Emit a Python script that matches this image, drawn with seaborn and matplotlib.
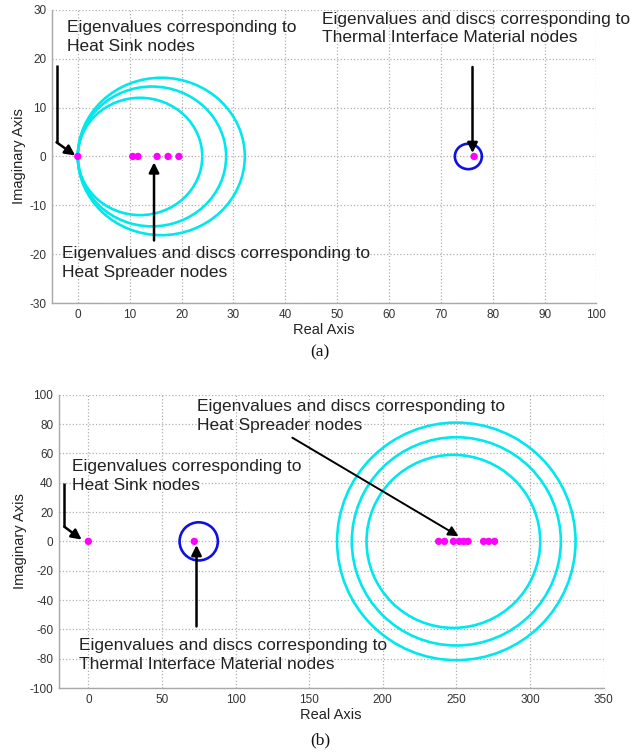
import numpy as np
import pandas as pd
import matplotlib
matplotlib.use('Agg')
import matplotlib.pyplot as plt
from matplotlib.patches import Circle
import seaborn as sns

# (a) eigenvalues and Gershgorin discs
a_sink_eig = [0.0]
a_spreader_eig = [10.6, 11.6, 15.3, 17.4, 19.5]
a_spreader_disc_c = [12.0, 14.3, 16.1]
a_spreader_disc_r = [12.0, 14.3, 16.1]
a_tim_eig = [76.4]
a_tim_disc_c = [75.3]
a_tim_disc_r = [2.6]

# (b)
b_sink_eig = [0.0]
b_spreader_eig = [238, 242, 248, 252, 255, 258, 268.5, 272, 276]
b_spreader_disc_c = [248, 250, 250]
b_spreader_disc_r = [59, 71, 81]
b_tim_eig = [72.0]
b_tim_disc_c = [75.0]
b_tim_disc_r = [13.0]

sns.set_style('white')
plt.rcParams['font.family'] = ['Liberation Sans', 'DejaVu Sans']
plt.rcParams['axes.unicode_minus'] = False

fig = plt.figure(figsize=(6.4, 7.54), dpi=100)
ax_a = fig.add_axes([0.081, 0.598, 0.851, 0.389])
ax_b = fig.add_axes([0.092, 0.0875, 0.851, 0.389])


def style_axes(ax, xlim, ylim, xticks, yticks):
    ax.set_xlim(*xlim)
    ax.set_ylim(*ylim)
    ax.set_xticks(xticks)
    ax.set_yticks(yticks)
    ax.grid(True, linestyle=':', color='#b0b0b0', linewidth=0.9)
    for s in ['top', 'right']:
        ax.spines[s].set_visible(False)
    for s in ['left', 'bottom']:
        ax.spines[s].set_color('#a8a8a8')
        ax.spines[s].set_linewidth(1.0)
    ax.tick_params(direction='in', length=3, color='#a8a8a8', labelsize=8.5,
                   labelcolor='#333333', pad=4)
    ax.set_xlabel('Real Axis', fontsize=10.5, color='#222222',
                  family=['Liberation Sans Narrow', 'Liberation Sans', 'DejaVu Sans'], labelpad=2)
    ax.set_ylabel('Imaginary Axis', fontsize=10.5, color='#222222',
                  family=['Liberation Sans Narrow', 'Liberation Sans', 'DejaVu Sans'], labelpad=2)


def draw_panel(ax, sink, spreader, sp_c, sp_r, tim, tim_c, tim_r):
    for c, r in zip(sp_c, sp_r):
        ax.add_patch(Circle((c, 0), r, fill=False, edgecolor='#00e8ec', linewidth=1.9, zorder=2))
    for c, r in zip(tim_c, tim_r):
        ax.add_patch(Circle((c, 0), r, fill=False, edgecolor='#1010e0', linewidth=1.9, zorder=2))
    eig = pd.DataFrame({'re': sink + spreader + tim})
    eig['im'] = 0.0
    sns.scatterplot(data=eig, x='re', y='im', ax=ax, color='#ff00ff', s=28,
                    edgecolor='none', zorder=3)


arrow = dict(arrowstyle='-|>,head_length=0.6,head_width=0.3', color='black', lw=1.8,
             shrinkA=0, shrinkB=0)
txt = dict(fontsize=12.5, color='#222222', va='top', ha='left', linespacing=1.3)

# panel (a)
draw_panel(ax_a, a_sink_eig, a_spreader_eig, a_spreader_disc_c, a_spreader_disc_r,
           a_tim_eig, a_tim_disc_c, a_tim_disc_r)
style_axes(ax_a, (-5, 100), (-30, 30), np.arange(0, 101, 10), np.arange(-30, 31, 10))
ax_a.text(-2.1, 27.9, 'Eigenvalues corresponding to\nHeat Sink nodes', **txt)
ax_a.plot([-4.1, -4.1], [18.8, 2.9], color='black', lw=1.8, solid_capstyle='butt')
ax_a.annotate('', xy=(-0.5, 0.2), xytext=(-4.1, 2.9), arrowprops=arrow)
ax_a.text(47.0, 29.6, 'Eigenvalues and discs corresponding to\nThermal Interface Material nodes', **txt)
ax_a.annotate('', xy=(76.1, 0.7), xytext=(76.1, 18.3), arrowprops=arrow)
ax_a.text(-3.0, -18.3, 'Eigenvalues and discs corresponding to\nHeat Spreader nodes', **txt)
ax_a.annotate('', xy=(14.7, -1.2), xytext=(14.7, -17.2), arrowprops=arrow)

# panel (b)
draw_panel(ax_b, b_sink_eig, b_spreader_eig, b_spreader_disc_c, b_spreader_disc_r,
           b_tim_eig, b_tim_disc_c, b_tim_disc_r)
style_axes(ax_b, (-20, 350), (-100, 100), np.arange(0, 351, 50), np.arange(-100, 101, 20))
ax_b.text(-11, 56, 'Eigenvalues corresponding to\nHeat Sink nodes', **txt)
ax_b.plot([-16.3, -16.3], [39.5, 10], color='black', lw=1.8, solid_capstyle='butt')
ax_b.annotate('', xy=(-4.5, 1.2), xytext=(-16.3, 10), arrowprops=arrow)
ax_b.text(74, 97, 'Eigenvalues and discs corresponding to\nHeat Spreader nodes', **txt)
ax_b.annotate('', xy=(251.5, 3.5), xytext=(138.6, 70.7),
              arrowprops=dict(arrow, lw=1.4))
ax_b.text(-6, -66, 'Eigenvalues and discs corresponding to\nThermal Interface Material nodes', **txt)
ax_b.annotate('', xy=(73.5, -2.5), xytext=(73.5, -58), arrowprops=arrow)

fig.text(0.5, 1 - 352 / 754, '(a)', ha='center', va='center', fontsize=12.5,
         family=['Liberation Serif', 'DejaVu Serif'], color='#111111')
fig.text(0.5, 1 - 740 / 754, '(b)', ha='center', va='center', fontsize=12.5,
         family=['Liberation Serif', 'DejaVu Serif'], color='#111111')

fig.savefig('out.png', dpi=100)
